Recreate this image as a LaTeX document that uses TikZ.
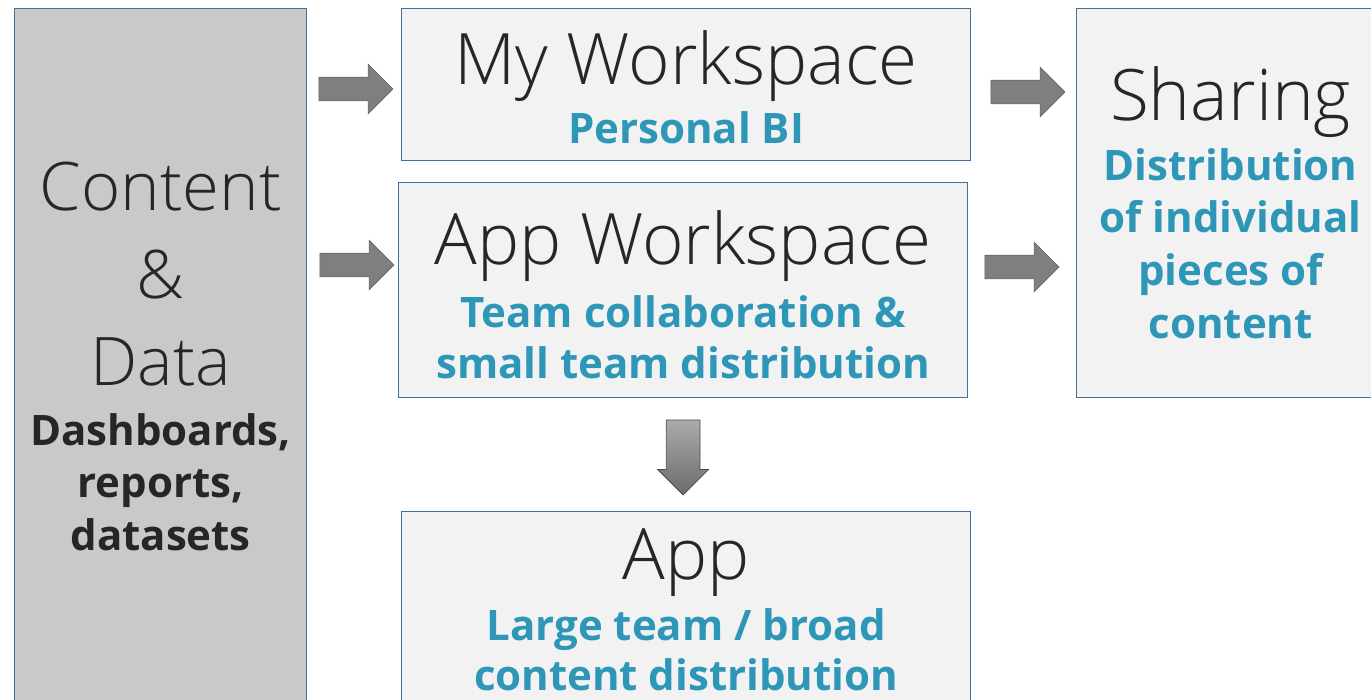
\documentclass[tikz,border=0pt]{standalone}
\usepackage{fontspec}
\setmainfont{Open Sans}
\newfontfamily\lightfont{Open Sans Light}
\usetikzlibrary{shapes.arrows,positioning}

\definecolor{boxfill}{HTML}{F2F2F2}
\definecolor{datafill}{HTML}{C9C9C9}
\definecolor{boxline}{HTML}{41719C}
\definecolor{subblue}{HTML}{2E97B8}
\definecolor{inkgray}{HTML}{262626}
\definecolor{arrowgray}{HTML}{7F7F7F}

\tikzset{
  panel/.style={draw=boxline, line width=1.3pt, fill=boxfill, inner sep=0pt, anchor=north west},
  headline/.style={font=\lightfont\fontsize{71}{84}\selectfont, text=inkgray, inner sep=0pt, anchor=base},
  subline/.style={font=\bfseries\fontsize{42}{52}\selectfont, text=subblue, inner sep=0pt, anchor=base},
  fatarrow/.style={single arrow, fill=arrowgray, draw=arrowgray!80!black, line width=0.6pt,
    minimum height=74pt, inner xsep=0pt, inner ysep=11.5pt, single arrow head extend=13pt,
    single arrow head indent=0pt},
  downarrow/.style={single arrow, rotate=-90, top color=black!33, bottom color=black!58,
    draw=black!70, line width=0.8pt, minimum height=75pt, inner xsep=0pt, inner ysep=16.5pt,
    single arrow head extend=8.5pt, single arrow head indent=0pt}
}

\begin{document}
\begin{tikzpicture}[x=1pt,y=-1pt]
\useasboundingbox (0,0) rectangle (1371,699);
% boxes
\node[panel, fill=datafill, minimum width=292pt, minimum height=700pt] (data) at (14,8) {};
\node[panel, minimum width=569pt, minimum height=152pt] (mywork) at (401,8) {};
\node[panel, minimum width=569pt, minimum height=215pt] (appwork) at (398,182) {};
\node[panel, minimum width=308pt, minimum height=389pt] (sharing) at (1076,8) {};
\node[panel, minimum width=569pt, minimum height=200pt] (app) at (401,511) {};
% content & data
\foreach \txt/\yy [count=\i] in {Content/210, \&/298, Data/385}
  \node[headline, font=\lightfont\fontsize{67}{80}\selectfont] (data-h\i) at (data.north |- 0,\yy) {\txt};
\foreach \txt/\yy [count=\i] in {{Dashboards,}/445, {reports,}/497, datasets/550}
  \node[subline, text=inkgray] (data-s\i) at (data.north |- 0,\yy) {\txt};
% my workspace
\node[headline] (mywork-h) at (mywork.north |- 0,84) {My Workspace};
\node[subline] (mywork-s) at (mywork.north |- 0,143) {Personal BI};
% app workspace
\node[headline] (appwork-h) at (appwork.north |- 0,264) {App Workspace};
\foreach \txt/\yy [count=\i] in {Team collaboration \&/327, small team distribution/378}
  \node[subline] (appwork-s\i) at (appwork.north |- 0,\yy) {\txt};
% sharing
\node[headline] (sharing-h) at (sharing.north |- 0,120) {Sharing};
\foreach \txt/\yy [count=\i] in {Distribution/180, of individual/232, pieces of/285, content/338}
  \node[subline] (sharing-s\i) at (sharing.north |- 0,\yy) {\txt};
% app
\node[headline] (app-h) at (app.north |- 0,579) {App};
\foreach \txt/\yy [count=\i] in {{Large team / broad}/640, content distribution/690}
  \node[subline] (app-s\i) at (app.north |- 0,\yy) {\txt};
% arrows
\node[fatarrow] (arr-my) at (350,89) {};
\node[fatarrow] (arr-appwork) at (351,265) {};
\node[fatarrow] (arr-share1) at (1022,92) {};
\node[fatarrow] (arr-share2) at (1016,267) {};
\node[downarrow] (arr-app) at (appwork.south |- 0,449) {};
\end{tikzpicture}
\end{document}
